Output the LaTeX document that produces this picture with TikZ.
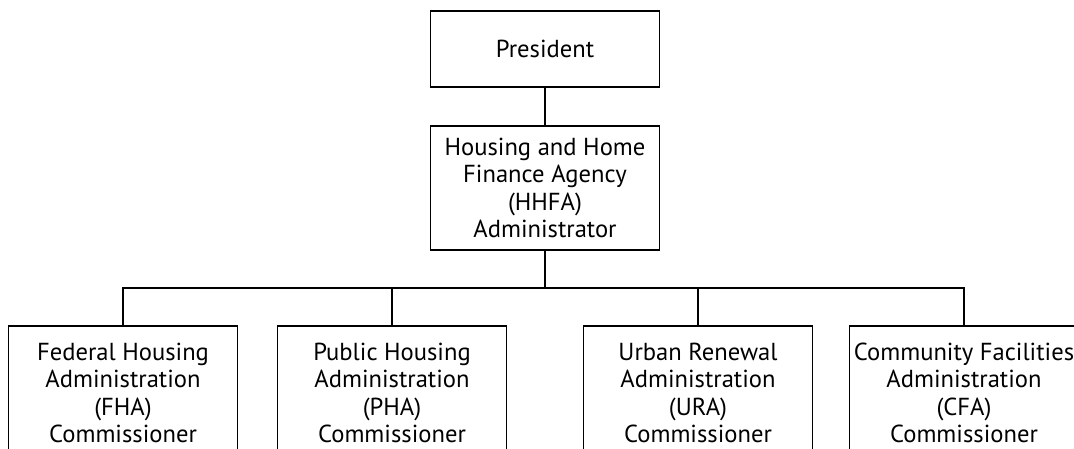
\documentclass[tikz,border=0pt]{standalone}
\usepackage{fontspec}
\setmainfont{PT Sans}
\usetikzlibrary{positioning}
\tikzset{
  unitbox/.style={draw, line width=1.1pt, align=center, minimum width=4.58cm,
    inner xsep=2pt, inner ysep=0pt, font=\fontsize{14}{15.5}\selectfont},
  link/.style={line width=1.1pt}
}

\begin{document}
\begin{tikzpicture}
	% Marco de la figura
	\useasboundingbox (0,0) rectangle (21.48,-8.98);
	\clip (0,0) rectangle (21.48,-8.98);

	% Nivel superior
	\node[unitbox, minimum height=1.52cm] (pres) at (10.9,-0.98) {President};
	\node[unitbox, minimum height=2.48cm] (hhfa) at (10.9,-3.76)
		{Housing and Home\\Finance Agency\\(HHFA)\\Administrator};

	% Oficinas (cortadas abajo)
	\node[unitbox, minimum height=2.68cm] (fha) at (2.46,-7.86)
		{Federal Housing\\Administration\\(FHA)\\Commissioner};
	\node[unitbox, minimum height=2.68cm] (pha) at (7.84,-7.86)
		{Public Housing\\Administration\\(PHA)\\Commissioner};
	\node[unitbox, minimum height=2.68cm] (ura) at (13.96,-7.86)
		{Urban Renewal\\Administration\\(URA)\\Commissioner};
	\node[unitbox, minimum height=2.68cm] (cfa) at (19.28,-7.86)
		{Community Facilities\\Administration\\(CFA)\\Commissioner};

	% Lineas
	\coordinate (bar) at (0,-5.76);
	\draw[link] (pres) -- (hhfa);
	\draw[link] (hhfa.south) -- (hhfa.south |- bar);
	\draw[link] (fha.north) -- (fha.north |- bar) -- (cfa.north |- bar) -- (cfa.north);
	\foreach \n in {pha,ura}
		\draw[link] (\n.north) -- (\n.north |- bar);
\end{tikzpicture}
\end{document}
